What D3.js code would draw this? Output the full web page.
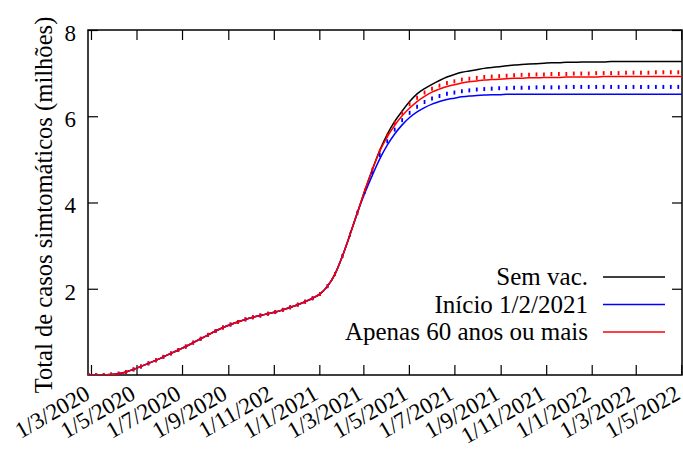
<!DOCTYPE html>
<html>
<head>
<meta charset="utf-8">
<script src="https://cdn.jsdelivr.net/npm/d3@7"></script>
<style>
  body { margin: 0; background: #fff; }
  svg { display: block; font-family: "Liberation Serif", serif; }
</style>
</head>
<body>
<svg></svg>
<script>
// Chart size and plot frame
let vWidth = 683;
let vHeight = 450;
let margin = { top: 30, right: 1, bottom: 75, left: 88 };

// x axis: dates, one point every 10 days starting 27/2/2020
let startDate = new Date(2020, 1, 27);
let domainStart = new Date(2020, 1, 26);
let domainEnd = new Date(2022, 4, 2);
let tickDates = ["2020-03-01", "2020-05-01", "2020-07-01", "2020-09-01", "2020-11-01", "2021-01-01",
  "2021-03-01", "2021-05-01", "2021-07-01", "2021-09-01", "2021-11-01", "2022-01-01", "2022-03-01", "2022-05-01"];
let tickLabels = ["1/3/2020", "1/5/2020", "1/7/2020", "1/9/2020", "1/11/202", "1/1/2021", "1/3/2021",
  "1/5/2021", "1/7/2021", "1/9/2021", "1/11/2021", "1/1/2022", "1/3/2022", "1/5/2022"];
let yTicks = [2, 4, 6, 8];

// cumulative cases (millions) before the curves split
let common = [0, 0, 0, 0.01, 0.03, 0.07, 0.13, 0.20, 0.27, 0.34,
  0.42, 0.50, 0.58, 0.66, 0.75, 0.84, 0.93, 1.02, 1.10, 1.17,
  1.23, 1.29, 1.34, 1.38, 1.42, 1.46, 1.51, 1.57, 1.63, 1.70,
  1.78, 1.88, 2.06, 2.34, 2.76, 3.25, 3.76];

// after the split
let semVac = [4.28, 4.76, 5.21, 5.58, 5.88, 6.12, 6.34, 6.52, 6.64, 6.74,
  6.83, 6.91, 6.97, 7.02, 7.05, 7.08, 7.11, 7.13, 7.15, 7.17,
  7.19, 7.20, 7.21, 7.22, 7.23, 7.24, 7.24, 7.25, 7.25, 7.26,
  7.26, 7.26, 7.26, 7.27, 7.27, 7.27, 7.27, 7.27, 7.27, 7.27,
  7.27, 7.27, 7.27, 7.27];
let inicio = [4.22, 4.63, 5.01, 5.33, 5.59, 5.80, 5.97, 6.10, 6.20, 6.28,
  6.34, 6.39, 6.42, 6.45, 6.47, 6.48, 6.49, 6.50, 6.50, 6.51,
  6.51, 6.51, 6.51, 6.51, 6.51, 6.51, 6.51, 6.51, 6.51, 6.51,
  6.51, 6.51, 6.51, 6.51, 6.51, 6.51, 6.51, 6.51, 6.51, 6.51,
  6.51, 6.51, 6.51, 6.51];
let apenas60 = [4.28, 4.76, 5.19, 5.52, 5.79, 6.01, 6.19, 6.34, 6.46, 6.56,
  6.63, 6.69, 6.73, 6.77, 6.80, 6.82, 6.84, 6.85, 6.86, 6.87,
  6.88, 6.88, 6.89, 6.89, 6.90, 6.90, 6.90, 6.91, 6.91, 6.91,
  6.91, 6.91, 6.92, 6.92, 6.92, 6.92, 6.92, 6.92, 6.92, 6.92,
  6.92, 6.92, 6.92, 6.92];
let inicioPts = [4.25, 4.70, 5.10, 5.42, 5.69, 5.91, 6.08, 6.22, 6.33, 6.41,
  6.47, 6.52, 6.55, 6.58, 6.60, 6.62, 6.63, 6.64, 6.65, 6.65,
  6.66, 6.66, 6.66, 6.67, 6.67, 6.67, 6.67, 6.68, 6.68, 6.68,
  6.68, 6.68, 6.68, 6.68, 6.68, 6.68, 6.68, 6.68, 6.68, 6.68,
  6.68, 6.68, 6.68, 6.68];
let apenas60Pts = [4.28, 4.76, 5.20, 5.55, 5.84, 6.08, 6.28, 6.43, 6.55, 6.64,
  6.71, 6.77, 6.81, 6.85, 6.87, 6.89, 6.91, 6.92, 6.93, 6.94,
  6.95, 6.96, 6.96, 6.97, 6.97, 6.98, 6.98, 6.98, 6.99, 6.99,
  6.99, 7.00, 7.00, 7.00, 7.00, 7.01, 7.01, 7.01, 7.01, 7.02,
  7.02, 7.02, 7.02, 7.02];

let seriesNames = ["Sem vac.", "Início 1/2/2021", "Apenas 60 anos ou mais"];
let seriesColors = ["#000000", "#0000ff", "#ff0000"];

let toPoints = (tail) => common.concat(tail).map((v, i) => ({
  date: d3.timeDay.offset(startDate, 10 * i),
  value: v
}));

let lines = [semVac, inicio, apenas60].map(toPoints);
let dots = [
  { color: "#0000ff", pts: toPoints(inicioPts) },
  { color: "#ff0000", pts: toPoints(apenas60Pts) }
];

let svg = d3.select('svg')
  .attr('width', vWidth)
  .attr('height', vHeight);

let plotW = vWidth - margin.left - margin.right;
let plotH = vHeight - margin.top - margin.bottom;

let x = d3.scaleTime()
  .domain([domainStart, domainEnd])
  .range([margin.left, margin.left + plotW]);

let y = d3.scaleLinear()
  .domain([0, 8])
  .range([margin.top + plotH, margin.top]);

svg.append('clipPath').attr('id', 'plotClip')
  .append('rect')
  .attr('x', margin.left).attr('y', margin.top)
  .attr('width', plotW).attr('height', plotH);

let parse = d3.timeParse('%Y-%m-%d');
let xTicks = tickDates.map(parse);

// bottom axis with rotated labels
let gx = svg.append('g')
  .attr('transform', `translate(0, ${margin.top + plotH})`)
  .call(d3.axisBottom(x).tickValues(xTicks).tickSizeInner(-10).tickSizeOuter(0)
    .tickFormat((d, i) => tickLabels[i]));
gx.selectAll('text')
  .attr('y', 0).attr('dy', 0)
  .attr('text-anchor', 'end')
  .attr('transform', 'translate(0, 23) rotate(-30)')
  .style('font-size', '23px');

// top mirror ticks
svg.append('g')
  .attr('transform', `translate(0, ${margin.top})`)
  .call(d3.axisTop(x).tickValues(xTicks).tickSizeInner(-10).tickSizeOuter(0).tickFormat(''));

// left axis
let gy = svg.append('g')
  .attr('transform', `translate(${margin.left}, 0)`)
  .call(d3.axisLeft(y).tickValues(yTicks).tickSizeInner(-10).tickSizeOuter(0));
gy.selectAll('text')
  .attr('x', -12)
  .attr('dy', '0.45em')
  .style('font-size', '23px');

// right mirror ticks
svg.append('g')
  .attr('transform', `translate(${margin.left + plotW}, 0)`)
  .call(d3.axisRight(y).tickValues(yTicks).tickSizeInner(-10).tickSizeOuter(0).tickFormat(''));

svg.selectAll('.domain').remove();
svg.selectAll('.tick line').attr('stroke', '#000').attr('stroke-width', 1.2);
svg.selectAll('.tick text').attr('fill', '#000').style('font-family', '"Liberation Serif", serif');

// frame
svg.append('rect')
  .attr('x', margin.left).attr('y', margin.top)
  .attr('width', plotW).attr('height', plotH)
  .attr('fill', 'none').attr('stroke', '#000').attr('stroke-width', 1.5);

// y label
svg.append('text')
  .attr('transform', 'translate(52, 205) rotate(-90)')
  .attr('text-anchor', 'middle')
  .style('font-size', '24.6px')
  .text('Total de casos simtomáticos (milhões)');

let plot = svg.append('g').attr('clip-path', 'url(#plotClip)');

let vLine = d3.line()
  .x((d) => x(d.date))
  .y((d) => y(d.value))
  .curve(d3.curveMonotoneX);

plot.selectAll('path.series')
  .data(lines)
  .enter()
  .append('path')
  .attr('class', 'series')
  .attr('d', vLine)
  .attr('fill', 'none')
  .attr('stroke', (d, i) => seriesColors[i])
  .attr('stroke-width', 1.5);

dots.forEach((s) => {
  plot.selectAll(null)
    .data(s.pts)
    .enter()
    .append('line')
    .attr('x1', (d) => x(d.date)).attr('x2', (d) => x(d.date))
    .attr('y1', (d) => y(d.value) - 2).attr('y2', (d) => y(d.value) + 2)
    .attr('stroke', s.color)
    .attr('stroke-width', 1.8);
});

// legend
let legend = svg.append('g');
seriesNames.forEach((name, i) => {
  let ly = 277 + i * 27.5;
  legend.append('text')
    .attr('x', 588).attr('y', ly + 8)
    .attr('text-anchor', 'end')
    .style('font-size', '25px')
    .text(name);
  legend.append('line')
    .attr('x1', 603).attr('x2', 665)
    .attr('y1', ly).attr('y2', ly)
    .attr('stroke', seriesColors[i])
    .attr('stroke-width', 1.5);
});
</script>
</body>
</html>
